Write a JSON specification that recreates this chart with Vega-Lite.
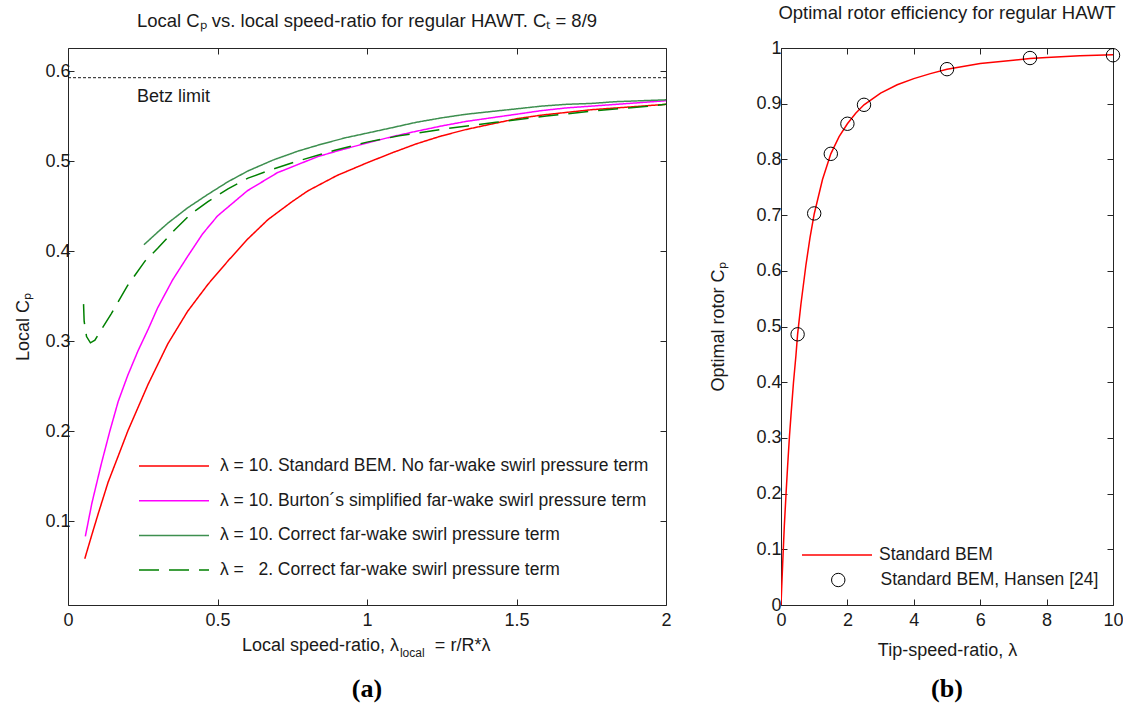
{
  "$schema": "https://vega.github.io/schema/vega-lite/v6.json",
  "background": "white",
  "padding": {"left": 14, "top": 3, "right": 5, "bottom": 0},
  "bounds": "flush",
  "spacing": 115,
  "config": {
    "font": "Liberation Sans",
    "view": {"stroke": "#262626", "strokeWidth": 1},
    "axis": {"grid": false, "domain": false, "tickSize": -6, "tickColor": "#262626", "tickWidth": 1, "labelFontSize": 18, "labelColor": "#1a1a1a", "labelFont": "Liberation Sans", "titleFontSize": 18, "titleFont": "Liberation Sans", "titleFontWeight": "normal", "titleColor": "#1a1a1a", "labelPadding": 4, "labelFlush": false, "labelOverlap": false},
    "title": {"fontSize": 18.5, "fontWeight": "normal", "font": "Liberation Sans", "color": "#1a1a1a", "offset": 17, "frame": "group", "anchor": "middle"},
    "legend": {"labelFont": "Liberation Sans", "labelFontSize": 17.5, "labelColor": "#1a1a1a", "padding": 0, "labelLimit": 700}
  },
  "resolve": {"scale": {"color": "independent", "strokeDash": "independent", "shape": "independent"}, "legend": {"color": "independent", "strokeDash": "independent", "shape": "independent"}},
  "hconcat": [
    {
      "width": 598,
      "height": 557,
      "title": {"text": "Local Cₚ vs. local speed-ratio for regular HAWT. Cₜ = 8/9"},
      "resolve": {"axis": {"x": "independent", "y": "independent"}},
      "layer": [
        {
          "data": {"values": [
            {"series": "red", "x": 0.056, "cp": 0.058}, {"series": "red", "x": 0.08, "cp": 0.085}, {"series": "red", "x": 0.1, "cp": 0.107}, {"series": "red", "x": 0.134, "cp": 0.143}, {"series": "red", "x": 0.17, "cp": 0.174}, {"series": "red", "x": 0.2, "cp": 0.2}, {"series": "red", "x": 0.268, "cp": 0.252}, {"series": "red", "x": 0.334, "cp": 0.297}, {"series": "red", "x": 0.4, "cp": 0.333}, {"series": "red", "x": 0.468, "cp": 0.363}, {"series": "red", "x": 0.535, "cp": 0.389}, {"series": "red", "x": 0.6, "cp": 0.413}, {"series": "red", "x": 0.669, "cp": 0.435}, {"series": "red", "x": 0.75, "cp": 0.455}, {"series": "red", "x": 0.803, "cp": 0.467}, {"series": "red", "x": 0.9, "cp": 0.484}, {"series": "red", "x": 1.0, "cp": 0.498}, {"series": "red", "x": 1.083, "cp": 0.509}, {"series": "red", "x": 1.164, "cp": 0.519}, {"series": "red", "x": 1.25, "cp": 0.528}, {"series": "red", "x": 1.331, "cp": 0.535}, {"series": "red", "x": 1.415, "cp": 0.541}, {"series": "red", "x": 1.5, "cp": 0.547}, {"series": "red", "x": 1.583, "cp": 0.551}, {"series": "red", "x": 1.666, "cp": 0.554}, {"series": "red", "x": 1.75, "cp": 0.557}, {"series": "red", "x": 1.833, "cp": 0.559}, {"series": "red", "x": 1.917, "cp": 0.561}, {"series": "red", "x": 2.0, "cp": 0.563},
            {"series": "mag", "x": 0.058, "cp": 0.083}, {"series": "mag", "x": 0.08, "cp": 0.12}, {"series": "mag", "x": 0.111, "cp": 0.163}, {"series": "mag", "x": 0.14, "cp": 0.2}, {"series": "mag", "x": 0.168, "cp": 0.233}, {"series": "mag", "x": 0.2, "cp": 0.262}, {"series": "mag", "x": 0.234, "cp": 0.289}, {"series": "mag", "x": 0.268, "cp": 0.313}, {"series": "mag", "x": 0.3, "cp": 0.337}, {"series": "mag", "x": 0.35, "cp": 0.368}, {"series": "mag", "x": 0.4, "cp": 0.394}, {"series": "mag", "x": 0.45, "cp": 0.419}, {"series": "mag", "x": 0.5, "cp": 0.439}, {"series": "mag", "x": 0.6, "cp": 0.467}, {"series": "mag", "x": 0.7, "cp": 0.487}, {"series": "mag", "x": 0.836, "cp": 0.505}, {"series": "mag", "x": 0.92, "cp": 0.513}, {"series": "mag", "x": 1.0, "cp": 0.52}, {"series": "mag", "x": 1.083, "cp": 0.527}, {"series": "mag", "x": 1.164, "cp": 0.533}, {"series": "mag", "x": 1.25, "cp": 0.539}, {"series": "mag", "x": 1.331, "cp": 0.544}, {"series": "mag", "x": 1.415, "cp": 0.548}, {"series": "mag", "x": 1.5, "cp": 0.552}, {"series": "mag", "x": 1.583, "cp": 0.556}, {"series": "mag", "x": 1.666, "cp": 0.559}, {"series": "mag", "x": 1.75, "cp": 0.561}, {"series": "mag", "x": 1.833, "cp": 0.563}, {"series": "mag", "x": 1.917, "cp": 0.565}, {"series": "mag", "x": 2.0, "cp": 0.567},
            {"series": "g10", "x": 0.254, "cp": 0.407}, {"series": "g10", "x": 0.3, "cp": 0.421}, {"series": "g10", "x": 0.334, "cp": 0.431}, {"series": "g10", "x": 0.4, "cp": 0.448}, {"series": "g10", "x": 0.468, "cp": 0.463}, {"series": "g10", "x": 0.535, "cp": 0.477}, {"series": "g10", "x": 0.602, "cp": 0.489}, {"series": "g10", "x": 0.685, "cp": 0.501}, {"series": "g10", "x": 0.769, "cp": 0.511}, {"series": "g10", "x": 0.85, "cp": 0.519}, {"series": "g10", "x": 0.93, "cp": 0.526}, {"series": "g10", "x": 1.0, "cp": 0.531}, {"series": "g10", "x": 1.083, "cp": 0.537}, {"series": "g10", "x": 1.164, "cp": 0.543}, {"series": "g10", "x": 1.25, "cp": 0.548}, {"series": "g10", "x": 1.331, "cp": 0.552}, {"series": "g10", "x": 1.415, "cp": 0.555}, {"series": "g10", "x": 1.5, "cp": 0.558}, {"series": "g10", "x": 1.583, "cp": 0.561}, {"series": "g10", "x": 1.666, "cp": 0.563}, {"series": "g10", "x": 1.75, "cp": 0.564}, {"series": "g10", "x": 1.833, "cp": 0.566}, {"series": "g10", "x": 1.917, "cp": 0.567}, {"series": "g10", "x": 2.0, "cp": 0.568},
            {"series": "g2", "x": 0.052, "cp": 0.341}, {"series": "g2", "x": 0.054, "cp": 0.322}, {"series": "g2", "x": 0.062, "cp": 0.305}, {"series": "g2", "x": 0.075, "cp": 0.298}, {"series": "g2", "x": 0.09, "cp": 0.301}, {"series": "g2", "x": 0.11, "cp": 0.312}, {"series": "g2", "x": 0.144, "cp": 0.33}, {"series": "g2", "x": 0.2, "cp": 0.362}, {"series": "g2", "x": 0.258, "cp": 0.389}, {"series": "g2", "x": 0.3, "cp": 0.403}, {"series": "g2", "x": 0.358, "cp": 0.424}, {"series": "g2", "x": 0.41, "cp": 0.441}, {"series": "g2", "x": 0.468, "cp": 0.455}, {"series": "g2", "x": 0.535, "cp": 0.469}, {"series": "g2", "x": 0.602, "cp": 0.481}, {"series": "g2", "x": 0.685, "cp": 0.491}, {"series": "g2", "x": 0.769, "cp": 0.5}, {"series": "g2", "x": 0.893, "cp": 0.512}, {"series": "g2", "x": 1.0, "cp": 0.521}, {"series": "g2", "x": 1.107, "cp": 0.528}, {"series": "g2", "x": 1.264, "cp": 0.536}, {"series": "g2", "x": 1.431, "cp": 0.543}, {"series": "g2", "x": 1.6, "cp": 0.55}, {"series": "g2", "x": 1.766, "cp": 0.556}, {"series": "g2", "x": 1.943, "cp": 0.561}, {"series": "g2", "x": 2.0, "cp": 0.563}
          ]},
          "transform": [{"lookup": "series", "from": {"data": {"values": [
            {"series": "red", "label": "λ = 10. Standard BEM. No far-wake swirl pressure term"},
            {"series": "mag", "label": "λ = 10. Burton´s simplified far-wake swirl pressure term"},
            {"series": "g10", "label": "λ = 10. Correct far-wake swirl pressure term"},
            {"series": "g2", "label": "λ =\u00a0\u00a0\u00a02. Correct far-wake swirl pressure term"}
          ]}, "key": "series", "fields": ["label"]}}],
          "mark": {"type": "line", "strokeWidth": 1.5, "clip": true},
          "encoding": {
            "x": {"field": "x", "type": "quantitative", "scale": {"domain": [0, 2], "nice": false, "zero": false}, "axis": {"orient": "bottom", "values": [0, 0.5, 1, 1.5, 2], "format": "~r", "title": null, "labelPadding": 12}},
            "y": {"field": "cp", "type": "quantitative", "scale": {"domain": [0.0067, 0.6256], "nice": false, "zero": false}, "axis": {"orient": "left", "values": [0.1, 0.2, 0.3, 0.4, 0.5, 0.6], "format": "~r", "title": "Local Cₚ", "titlePadding": 12}},
            "color": {"field": "label", "type": "nominal", "sort": null, "scale": {"domain": ["λ = 10. Standard BEM. No far-wake swirl pressure term", "λ = 10. Burton´s simplified far-wake swirl pressure term", "λ = 10. Correct far-wake swirl pressure term", "λ =\u00a0\u00a0\u00a02. Correct far-wake swirl pressure term"], "range": ["#ff0000", "#ff00ff", "#3d8f4f", "#008000"]}, "legend": {"orient": "none", "legendX": 70, "legendY": 408, "title": null, "symbolType": "stroke", "symbolSize": 4900, "symbolStrokeWidth": 1.5, "clipHeight": 20, "rowPadding": 14.7, "labelOffset": 10}},
            "strokeDash": {"field": "label", "type": "nominal", "sort": null, "scale": {"domain": ["λ = 10. Standard BEM. No far-wake swirl pressure term", "λ = 10. Burton´s simplified far-wake swirl pressure term", "λ = 10. Correct far-wake swirl pressure term", "λ =\u00a0\u00a0\u00a02. Correct far-wake swirl pressure term"], "range": [[1, 0], [1, 0], [1, 0], [20, 10]]}, "legend": {"orient": "none", "legendX": 70, "legendY": 408, "title": null, "symbolType": "stroke", "symbolSize": 4900, "symbolStrokeWidth": 1.5, "clipHeight": 20, "rowPadding": 14.7, "labelOffset": 10}}
          }
        },
        {
          "data": {"values": [{}]},
          "mark": {"type": "rule", "strokeDash": [3, 2], "color": "#1a1a1a", "strokeWidth": 1},
          "encoding": {"y": {"datum": 0.5926, "axis": null}}
        },
        {
          "data": {"values": [{}]},
          "mark": {"type": "text", "text": "Betz limit", "align": "left", "baseline": "middle", "fontSize": 18, "color": "#1a1a1a"},
          "encoding": {
            "x": {"datum": 0.231, "axis": {"orient": "top", "values": [0, 0.5, 1, 1.5, 2], "labels": false, "title": null}},
            "y": {"datum": 0.571, "axis": {"orient": "right", "values": [0.1, 0.2, 0.3, 0.4, 0.5, 0.6], "labels": false, "title": null}}
          }
        },
        {
          "data": {"values": [{}]},
          "mark": {"type": "text", "text": "Local speed-ratio, λ", "align": "right", "baseline": "middle", "fontSize": 18, "color": "#1a1a1a"},
          "encoding": {"x": {"datum": 1.107, "axis": null}, "y": {"datum": -0.039, "axis": null}}
        },
        {
          "data": {"values": [{}]},
          "mark": {"type": "text", "text": "local", "align": "left", "baseline": "middle", "fontSize": 12, "color": "#1a1a1a"},
          "encoding": {"x": {"datum": 1.11, "axis": null}, "y": {"datum": -0.047, "axis": null}}
        },
        {
          "data": {"values": [{}]},
          "mark": {"type": "text", "text": "= r/R*λ", "align": "left", "baseline": "middle", "fontSize": 18, "color": "#1a1a1a"},
          "encoding": {"x": {"datum": 1.227, "axis": null}, "y": {"datum": -0.039, "axis": null}}
        },
        {
          "data": {"values": [{}]},
          "mark": {"type": "text", "text": "(a)", "align": "center", "baseline": "middle", "fontSize": 26, "font": "Liberation Serif", "fontWeight": "bold", "color": "#000000"},
          "encoding": {"x": {"datum": 1.0, "axis": null}, "y": {"datum": -0.0867, "axis": null}}
        }
      ]
    },
    {
      "width": 332,
      "height": 557,
      "title": {"text": "Optimal rotor efficiency for regular HAWT"},
      "resolve": {"axis": {"x": "independent", "y": "independent"}},
      "layer": [
        {
          "data": {"values": [
            {"s": "Standard BEM", "lam": 0, "cp": 0}, {"s": "Standard BEM", "lam": 0.02, "cp": 0.03}, {"s": "Standard BEM", "lam": 0.05, "cp": 0.073}, {"s": "Standard BEM", "lam": 0.1, "cp": 0.142}, {"s": "Standard BEM", "lam": 0.157, "cp": 0.205}, {"s": "Standard BEM", "lam": 0.2, "cp": 0.25}, {"s": "Standard BEM", "lam": 0.255, "cp": 0.303}, {"s": "Standard BEM", "lam": 0.3, "cp": 0.34}, {"s": "Standard BEM", "lam": 0.374, "cp": 0.398}, {"s": "Standard BEM", "lam": 0.45, "cp": 0.448}, {"s": "Standard BEM", "lam": 0.5, "cp": 0.486}, {"s": "Standard BEM", "lam": 0.6, "cp": 0.54}, {"s": "Standard BEM", "lam": 0.75, "cp": 0.61}, {"s": "Standard BEM", "lam": 0.875, "cp": 0.66}, {"s": "Standard BEM", "lam": 1.0, "cp": 0.702}, {"s": "Standard BEM", "lam": 1.25, "cp": 0.764}, {"s": "Standard BEM", "lam": 1.5, "cp": 0.81}, {"s": "Standard BEM", "lam": 1.75, "cp": 0.841}, {"s": "Standard BEM", "lam": 2.0, "cp": 0.864}, {"s": "Standard BEM", "lam": 2.25, "cp": 0.883}, {"s": "Standard BEM", "lam": 2.5, "cp": 0.898}, {"s": "Standard BEM", "lam": 3.0, "cp": 0.919}, {"s": "Standard BEM", "lam": 3.5, "cp": 0.934}, {"s": "Standard BEM", "lam": 4.0, "cp": 0.945}, {"s": "Standard BEM", "lam": 4.5, "cp": 0.954}, {"s": "Standard BEM", "lam": 5.0, "cp": 0.962}, {"s": "Standard BEM", "lam": 6.0, "cp": 0.972}, {"s": "Standard BEM", "lam": 7.0, "cp": 0.978}, {"s": "Standard BEM", "lam": 7.5, "cp": 0.981}, {"s": "Standard BEM", "lam": 8.0, "cp": 0.983}, {"s": "Standard BEM", "lam": 9.0, "cp": 0.986}, {"s": "Standard BEM", "lam": 10.0, "cp": 0.988}
          ]},
          "mark": {"type": "line", "strokeWidth": 1.5, "clip": true},
          "encoding": {
            "x": {"field": "lam", "type": "quantitative", "scale": {"domain": [0, 10], "nice": false}, "axis": {"orient": "bottom", "values": [0, 2, 4, 6, 8, 10], "format": "d", "title": "Tip-speed-ratio, λ", "labelPadding": 12, "titlePadding": 12}},
            "y": {"field": "cp", "type": "quantitative", "scale": {"domain": [0, 1], "nice": false}, "axis": {"orient": "left", "values": [0, 0.1, 0.2, 0.3, 0.4, 0.5, 0.6, 0.7, 0.8, 0.9, 1], "format": "~r", "title": "Optimal rotor Cₚ", "titlePadding": 28, "labelPadding": 6}},
            "color": {"field": "s", "type": "nominal", "scale": {"domain": ["Standard BEM"], "range": ["#ff0000"]}, "legend": {"orient": "none", "legendX": 20, "legendY": 497, "title": null, "symbolType": "stroke", "symbolSize": 4900, "symbolStrokeWidth": 1.5, "clipHeight": 20, "labelOffset": 6}}
          }
        },
        {
          "data": {"values": [
            {"s": "Standard BEM, Hansen [24]", "lam": 0.5, "cp": 0.486}, {"s": "Standard BEM, Hansen [24]", "lam": 1.0, "cp": 0.703}, {"s": "Standard BEM, Hansen [24]", "lam": 1.5, "cp": 0.81}, {"s": "Standard BEM, Hansen [24]", "lam": 2.0, "cp": 0.864}, {"s": "Standard BEM, Hansen [24]", "lam": 2.5, "cp": 0.898}, {"s": "Standard BEM, Hansen [24]", "lam": 5.0, "cp": 0.962}, {"s": "Standard BEM, Hansen [24]", "lam": 7.5, "cp": 0.982}, {"s": "Standard BEM, Hansen [24]", "lam": 10.0, "cp": 0.987}
          ]},
          "mark": {"type": "point", "shape": "circle", "filled": false, "color": "#000000", "size": 180, "strokeWidth": 1, "opacity": 1},
          "encoding": {
            "x": {"field": "lam", "type": "quantitative", "axis": null},
            "y": {"field": "cp", "type": "quantitative", "axis": null},
            "shape": {"field": "s", "type": "nominal", "scale": {"domain": ["Standard BEM, Hansen [24]"], "range": ["circle"]}, "legend": {"orient": "none", "legendX": 48.5, "legendY": 522, "title": null, "symbolSize": 180, "symbolStrokeColor": "#000000", "symbolFillColor": "transparent", "symbolStrokeWidth": 1, "clipHeight": 20, "labelOffset": 33.5}}
          }
        },
        {
          "data": {"values": [{}]},
          "mark": {"type": "text", "text": "(b)", "align": "center", "baseline": "middle", "fontSize": 26, "font": "Liberation Serif", "fontWeight": "bold", "color": "#000000"},
          "encoding": {
            "x": {"datum": 5, "axis": {"orient": "top", "values": [0, 2, 4, 6, 8, 10], "labels": false, "title": null}},
            "y": {"datum": -0.151, "axis": {"orient": "right", "values": [0, 0.1, 0.2, 0.3, 0.4, 0.5, 0.6, 0.7, 0.8, 0.9, 1], "labels": false, "title": null}}
          }
        }
      ]
    }
  ]
}
